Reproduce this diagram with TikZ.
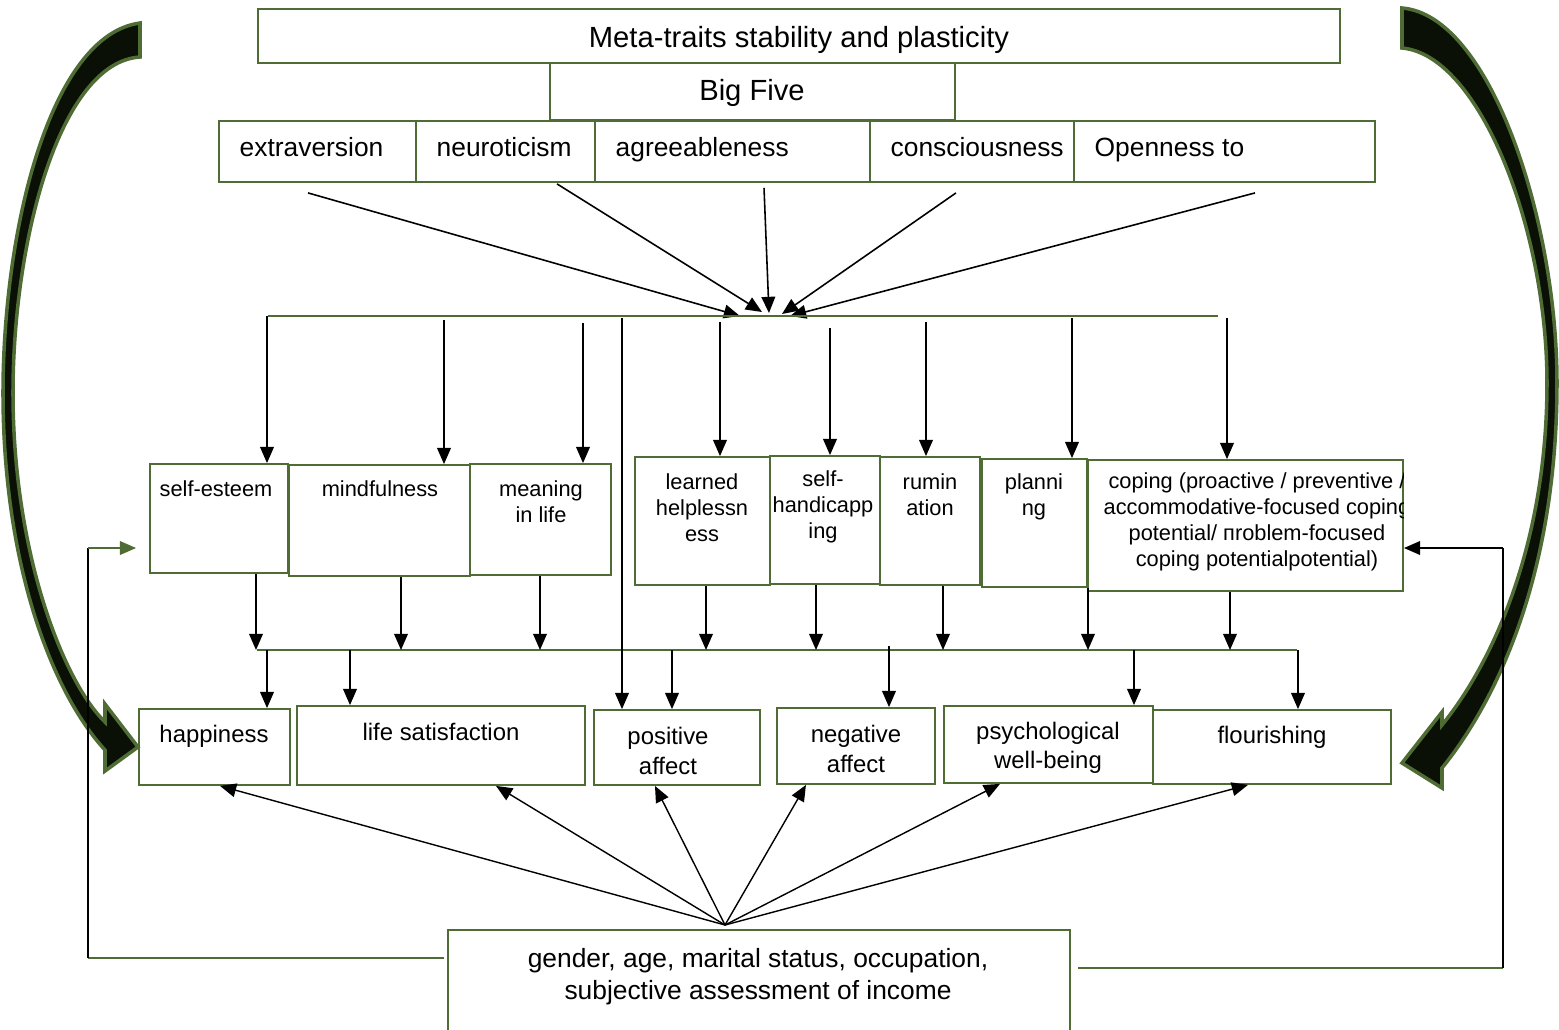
\documentclass[tikz,border=0pt]{standalone}
\usepackage{fontspec}
\setmainfont{Liberation Sans}
\usetikzlibrary{arrows.meta}
\definecolor{boxgreen}{RGB}{79,108,52}
\definecolor{bigfill}{RGB}{10,16,6}
\begin{document}
\begin{tikzpicture}[x=0.01cm,y=-0.01cm]
\tikzstyle{box}=[draw=boxgreen,line width=0.5pt,inner sep=0pt]
\tikzstyle{bus}=[draw=boxgreen,line width=0.5pt]
\tikzstyle{arr}=[line width=0.45pt,-{Triangle[length=4.6pt,width=3.9pt]}]
\tikzstyle{garr}=[draw=boxgreen,line width=0.45pt,-{Triangle[length=4.6pt,width=3.9pt,fill=boxgreen]}]
\tikzstyle{bigarrow}=[fill=bigfill,draw=boxgreen,line width=1pt]
\tikzstyle{fa}=[font=\fontsize{8.3}{10}\selectfont,inner sep=0pt,anchor=base]
\tikzstyle{fb}=[font=\fontsize{7.5}{9.1}\selectfont,align=center]
\tikzstyle{fc}=[font=\fontsize{6.2}{7.4}\selectfont,align=center]
\tikzstyle{fd}=[font=\fontsize{6.8}{8.3}\selectfont,align=center]
\clip (0,0) rectangle (1559,1029);

% big curved arrows
\path[bigarrow] (140,23) .. controls (50,35) and (3,230) .. (3,393)
  .. controls (3,560) and (50,690) .. (105,750) -- (105,771) -- (138,747)
  -- (105,704) -- (105,722) .. controls (62,680) and (13,550) .. (13,393)
  .. controls (13,240) and (60,62) .. (140,57) -- cycle;
\path[bigarrow] (1402,8) .. controls (1490,15) and (1557,220) .. (1557,383)
  .. controls (1557,560) and (1505,690) .. (1442,768) -- (1442,788) -- (1402,763)
  -- (1442,712) -- (1442,725) .. controls (1495,660) and (1547,540) .. (1547,383)
  .. controls (1547,230) and (1480,55) .. (1402,48) -- cycle;

% Big Five
\node[box,minimum width=10.82cm,minimum height=0.54cm] (meta) at (799,36) {};
\node[fa] (metaT) at (799,47) {Meta-traits stability and plasticity};
\node[box,minimum width=4.05cm,minimum height=0.57cm] (big) at (752.5,91.5) {};
\node[fa] (bigT) at (752,100) {Big Five};
\node[box,minimum width=1.97cm,minimum height=0.61cm] (ex) at (317.5,151.5) {};
\node[box,minimum width=1.79cm,minimum height=0.61cm] (ne) at (505.5,151.5) {};
\node[box,minimum width=2.75cm,minimum height=0.61cm] (ag) at (732.5,151.5) {};
\node[box,minimum width=2.04cm,minimum height=0.61cm] (co) at (972,151.5) {};
\node[box,minimum width=3.01cm,minimum height=0.61cm] (op) at (1224.5,151.5) {};
\node[fb,inner sep=0pt,anchor=base west] (exT) at (239,156) {extraversion};
\node[fb,inner sep=0pt,anchor=base west] (neT) at (436,156) {neuroticism};
\node[fb,inner sep=0pt,anchor=base west] (agT) at (615,156) {agreeableness};
\node[fb,inner sep=0pt,anchor=base west] (coT) at (890,156) {consciousness};
\node[fb,inner sep=0pt,anchor=base west] (opT) at (1094,156) {Openness to};

% traits into the top line
\foreach \n/\x/\y in {h1/740/316,h2/762/312,h3/769/313,h4/782/314,h5/790/316}
  \coordinate (\n) at (\x,\y);
\draw[arr] ([xshift=-0.095cm,yshift=-0.1cm]ex.south) -- (h1);
\draw[arr] ([xshift=0.515cm,yshift=-0.01cm]ne.south) -- (h2);
\draw[arr] ([xshift=0.315cm,yshift=-0.05cm]ag.south) -- (h3);
\draw[arr] ([xshift=-0.16cm,yshift=-0.1cm]co.south) -- (h4);
\draw[arr] ([xshift=0.305cm,yshift=-0.1cm]op.south) -- (h5);
\coordinate (busA) at (268,316);
\coordinate (busB) at (1218,316);
\draw[bus] (busA) -- (busB);

% middle row
\node[box,minimum width=1.38cm,minimum height=1.09cm] (se) at (219,518.5) {};
\node[box,minimum width=1.81cm,minimum height=1.11cm] (mf) at (379.5,520.5) {};
\node[box,minimum width=1.41cm,minimum height=1.11cm] (ml) at (540.5,519.5) {};
\node[box,minimum width=1.35cm,minimum height=1.28cm] (lh) at (702.5,521) {};
\node[box,minimum width=1.10cm,minimum height=1.28cm] (sh) at (825,520) {};
\node[box,minimum width=1.00cm,minimum height=1.28cm] (ru) at (930,521) {};
\node[box,minimum width=1.05cm,minimum height=1.28cm] (pl) at (1034.5,523) {};
\node[box,minimum width=3.15cm,minimum height=1.31cm] (cp) at (1245.5,525.5) {};
\node[fc] (seT) at (216,489) {self-esteem};
\node[fc] (mfT) at (380,489) {mindfulness};
\node[fc] (mlT) at (541,502) {meaning\\in life};
\node[fc] (lhT) at (702,507.5) {learned\\helplessn\\ess};
\node[fc] (shT) at (823,507) {self-\\handicapp\\ing};
\node[fc] (ruT) at (930,494.5) {rumin\\ation};
\node[fc] (plT) at (1034,497) {planni\\ng};
\begin{scope}
\clip (cp.south west) rectangle (cp.north east);
\node[fc] (cpT) at (1257,522) {coping (proactive / preventive /\\accommodative-focused coping\\potential/ пroblem-focused\\coping potentialpotential)};
\end{scope}

\foreach \n/\x/\y in {t1/267/316,t2/444/320,t3/583/323,t4/622/318,t5/720/322,t6/830/328,t7/926/322,t8/1072/318,t9/1227/318}
  \coordinate (\n) at (\x,\y);
\draw[arr] (t1) -- (t1 |- se.north);
\draw[arr] (t2) -- (t2 |- mf.north);
\draw[arr] (t3) -- (t3 |- ml.north);
\draw[arr] (t5) -- (t5 |- lh.north);
\draw[arr] (t6) -- (t6 |- sh.north);
\draw[arr] (t7) -- (t7 |- ru.north);
\draw[arr] (t8) -- (t8 |- pl.north);
\draw[arr] (t9) -- (t9 |- cp.north);

% second line
\coordinate (busC) at (257,650);
\coordinate (busD) at (1297,650);
\draw[bus] (busC) -- (busD);
\foreach \n/\x in {b1/256,b2/401,b3/540,b4/706,b5/816,b6/943,b7/1088,b8/1230}
  \coordinate (\n) at (\x,650);
\draw[arr] (se.south -| b1) -- (b1);
\draw[arr] (mf.south -| b2) -- (b2);
\draw[arr] (ml.south -| b3) -- (b3);
\draw[arr] (lh.south -| b4) -- (b4);
\draw[arr] (sh.south -| b5) -- (b5);
\draw[arr] (ru.south -| b6) -- (b6);
\draw[arr] (pl.south -| b7) -- (b7);
\draw[arr] (cp.south -| b8) -- (b8);

% well-being row
\node[box,minimum width=1.51cm,minimum height=0.76cm] (ha) at (214.5,747) {};
\node[box,minimum width=2.88cm,minimum height=0.79cm] (ls) at (441,745.5) {};
\node[box,minimum width=1.66cm,minimum height=0.75cm] (pa) at (677,747.5) {};
\node[box,minimum width=1.58cm,minimum height=0.76cm] (na) at (856,746) {};
\node[box,minimum width=2.09cm,minimum height=0.77cm] (pw) at (1048.5,744.5) {};
\node[box,minimum width=2.38cm,minimum height=0.74cm] (fl) at (1272,747) {};
\node[fd] (haT) at (214,736) {happiness};
\node[fd] (lsT) at (441,732) {life satisfaction};
\node[fd] (paT) at (668,751) {positive\\affect};
\node[fd] (naT) at (856,749) {negative\\affect};
\node[fd] (pwT) at (1048,748) {psychological\\well-being};
\node[fd] (flT) at (1272,737) {flourishing};

\draw[arr] (t4) -- (t4 |- pa.north);
\foreach \n/\x/\y in {c1/267/650,c2/350/650,c3/672/650,c4/889/646,c5/1134/650,c6/1298/650}
  \coordinate (\n) at (\x,\y);
\draw[arr] (c1) -- (c1 |- ha.north);
\draw[arr] (c2) -- (c2 |- ls.north);
\draw[arr] (c3) -- (c3 |- pa.north);
\draw[arr] (c4) -- (c4 |- na.north);
\draw[arr] (c5) -- (c5 |- pw.north);
\draw[arr] (c6) -- (c6 |- fl.north);

% socio-demographic box
\node[box,minimum width=6.22cm,minimum height=1.04cm] (ge) at (759,982) {};
\node[fb] (geT) at (758,977) {gender, age, marital status, occupation,\\subjective assessment of income};
\coordinate (hub) at (725,925);
\draw[arr,line width=0.4pt] (hub) -- ([xshift=0.055cm]ha.south);
\draw[arr,line width=0.4pt] (hub) -- ([xshift=0.55cm]ls.south);
\draw[arr,line width=0.4pt] (hub) -- ([xshift=-0.22cm]pa.south);
\draw[arr,line width=0.4pt] (hub) -- ([xshift=-0.5cm]na.south);
\draw[arr,line width=0.4pt] (hub) -- ([xshift=-0.485cm]pw.south);
\draw[arr,line width=0.4pt] (hub) -- ([xshift=-0.24cm]fl.south);

% feedback lines
\coordinate (fbl1) at (88,958);
\coordinate (fbl2) at (88,548);
\draw[bus,shorten <=0.03cm] (ge.west |- fbl1) -- (fbl1);
\draw[line width=0.45pt] (fbl1) -- (fbl2);
\draw[garr,shorten >=0.13cm] (fbl2) -- (se.west |- fbl2);
\coordinate (fbr1) at (1503,968);
\coordinate (fbr2) at (1503,548);
\draw[bus,shorten <=0.07cm] (ge.east |- fbr1) -- (fbr1);
\draw[line width=0.45pt] (fbr1) -- (fbr2);
\draw[arr] (fbr2) -- (cp.east |- fbr2);
\end{tikzpicture}
\end{document}
